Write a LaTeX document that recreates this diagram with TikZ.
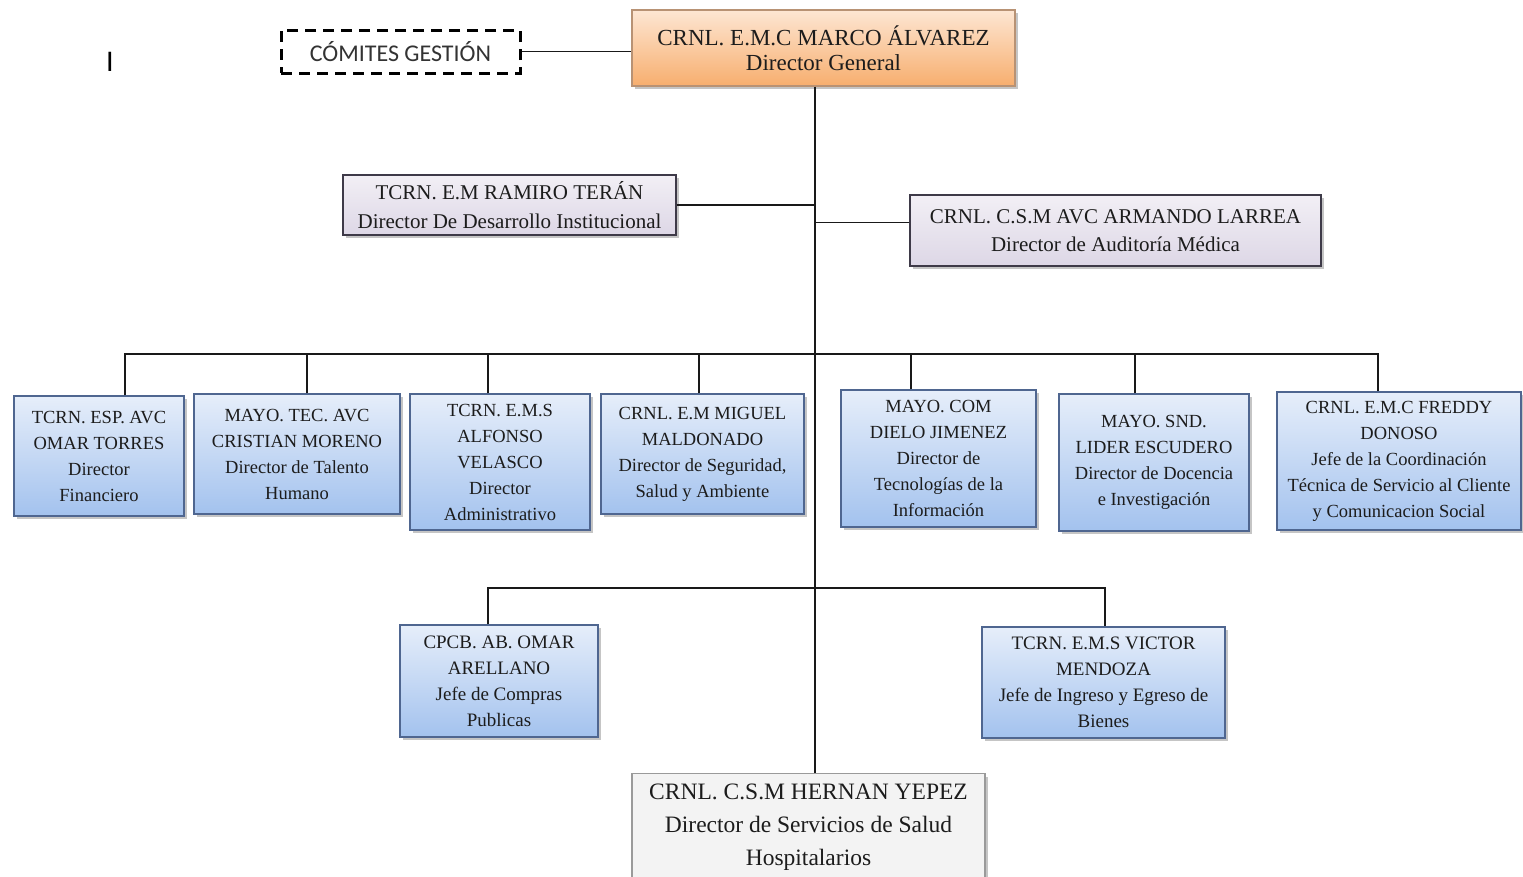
\documentclass[tikz,border=0pt]{standalone}
\usepackage{fontspec}
\setmainfont{Liberation Serif}
\newfontfamily\boxserif{Liberation Serif}
\newfontfamily\sansgest{Carlito}
\usetikzlibrary{shadows}

\definecolor{ink}{HTML}{1C1C1C}
\definecolor{bluetop}{HTML}{E6EEFA}
\definecolor{bluebot}{HTML}{A3C2EE}
\definecolor{blueedge}{HTML}{4F6690}
\definecolor{orangetop}{HTML}{FDE6D3}
\definecolor{orangebot}{HTML}{F7AE6E}
\definecolor{orangeedge}{HTML}{B89274}
\definecolor{lavtop}{HTML}{F2EFF5}
\definecolor{lavbot}{HTML}{DDD7E6}
\definecolor{lavedge}{HTML}{3E3A48}
\definecolor{greyfill}{HTML}{F3F3F3}
\definecolor{greyedge}{HTML}{9A9A9A}

\begin{document}
\begin{tikzpicture}[x=1pt,y=-1pt,
  box/.style={draw, line width=1.3pt, inner sep=1pt, align=center, text=ink,
    drop shadow={shadow xshift=2.5pt, shadow yshift=-3pt, fill=black!45, opacity=.5}},
  bluebox/.style={box, draw=blueedge, top color=bluetop, bottom color=bluebot,
    font=\boxserif\fontsize{18.5}{26}\selectfont},
  subbox/.style={bluebox, font=\boxserif\fontsize{19}{26}\selectfont},
  lavbox/.style={box, draw=lavedge, top color=lavtop, bottom color=lavbot,
    font=\boxserif\fontsize{21}{28.5}\selectfont},
  headbox/.style={box, draw=orangeedge, top color=orangetop, bottom color=orangebot,
    font=\boxserif\fontsize{23}{25}\selectfont},
  greybox/.style={box, draw=greyedge, fill=greyfill, drop shadow={opacity=0},
    font=\boxserif\fontsize{23.5}{33}\selectfont},
  dashbox/.style={draw=black, line width=3pt, dash pattern=on 11pt off 7pt,
    inner sep=0pt, text=black!80, font=\sansgest\fontsize{24}{26}\selectfont},
  wire/.style={line width=1.6pt, draw=black!90}
]
\useasboundingbox (0,0) rectangle (1523,876);
\clip (0,0) rectangle (1523,876);
\fill[white] (0,0) rectangle (1523,876);

% reference columns and bus levels
\coordinate (tx) at (815,0);
\coordinate (busA) at (0,354);
\coordinate (busB) at (0,588);

% head of the organisation
\node[headbox, minimum width=383pt, minimum height=76pt] (top) at (823.5,48)
  {CRNL. E.M.C MARCO ÁLVAREZ\\Director General};
\node[dashbox, minimum width=239pt, minimum height=43pt] (com) at (400.5,51.5)
  {CÓMITES GESTIÓN};
\node[font=\sansgest\fontsize{30}{30}\selectfont, inner sep=0pt] (cursor) at (110,62) {I};

% staff directors
\node[lavbox, minimum width=333pt, minimum height=60pt] (ram) at (509.5,205)
  {TCRN. E.M RAMIRO TERÁN\\Director De Desarrollo Institucional};
\node[lavbox, minimum width=411pt, minimum height=71pt] (lar) at (1115.5,230.5)
  {CRNL. C.S.M AVC ARMANDO LARREA\\Director de Auditoría Médica};

% line directors
\node[bluebox, minimum width=170pt, minimum height=120pt] (b1) at (99,456)
  {TCRN. ESP. AVC\\OMAR TORRES\\Director\\Financiero};
\node[bluebox, minimum width=206pt, minimum height=120pt] (b2) at (297,454)
  {MAYO. TEC. AVC\\CRISTIAN MORENO\\Director de Talento\\Humano};
\node[bluebox, minimum width=180pt, minimum height=136pt] (b3) at (500,462)
  {TCRN. E.M.S\\ALFONSO\\VELASCO\\Director\\Administrativo};
\node[bluebox, minimum width=203pt, minimum height=120pt] (b4) at (702.5,454)
  {CRNL. E.M MIGUEL\\MALDONADO\\Director de Seguridad,\\Salud y Ambiente};
\node[bluebox, minimum width=195pt, minimum height=137pt] (b5) at (938.5,458.5)
  {MAYO. COM\\DIELO JIMENEZ\\Director de\\Tecnologías de la\\Información};
\node[bluebox, minimum width=190pt, minimum height=137pt] (b6) at (1154,462.5)
  {MAYO. SND.\\LIDER ESCUDERO\\Director de Docencia\\e Investigación};
\node[bluebox, minimum width=244pt, minimum height=138pt] (b7) at (1399,461)
  {CRNL. E.M.C FREDDY\\DONOSO\\Jefe de la Coordinación\\Técnica de Servicio al Cliente\\y Comunicacion Social};

% units
\node[subbox, minimum width=198pt, minimum height=112pt] (c1) at (499,681)
  {CPCB. AB. OMAR\\ARELLANO\\Jefe de Compras\\Publicas};
\node[subbox, minimum width=243pt, minimum height=111pt] (c2) at (1103.5,682.5)
  {TCRN. E.M.S VICTOR\\MENDOZA\\Jefe de Ingreso y Egreso de\\Bienes};

% hospital services
\node[greybox, minimum width=353pt, minimum height=107pt, anchor=north] (bot) at (808.5,773)
  {CRNL. C.S.M HERNAN YEPEZ\\Director de Servicios de Salud\\Hospitalarios};

% connectors
\draw[wire] (com.east) -- (com.east -| top.west);
\draw[wire] (top.south -| tx) -- (bot.north -| tx);
\draw[wire] (ram.east) -- (ram.east -| tx);
\draw[wire] ([yshift=8pt]lar.west) -- ([yshift=8pt]lar.west -| tx);

\draw[wire] ([xshift=26pt]b1.north) -- ([xshift=26pt]b1.north |- busA)
  -- ([xshift=-21pt]b7.north |- busA) -- ([xshift=-21pt]b7.north);
\draw[wire] ([xshift=10pt]b2.north) -- ([xshift=10pt]b2.north |- busA);
\draw[wire] ([xshift=-12pt]b3.north) -- ([xshift=-12pt]b3.north |- busA);
\draw[wire] ([xshift=-3.5pt]b4.north) -- ([xshift=-3.5pt]b4.north |- busA);
\draw[wire] ([xshift=-27.5pt]b5.north) -- ([xshift=-27.5pt]b5.north |- busA);
\draw[wire] ([xshift=-19pt]b6.north) -- ([xshift=-19pt]b6.north |- busA);

\draw[wire] ([xshift=-11pt]c1.north) -- ([xshift=-11pt]c1.north |- busB)
  -- ([xshift=1.5pt]c2.north |- busB) -- ([xshift=1.5pt]c2.north);
\end{tikzpicture}
\end{document}
